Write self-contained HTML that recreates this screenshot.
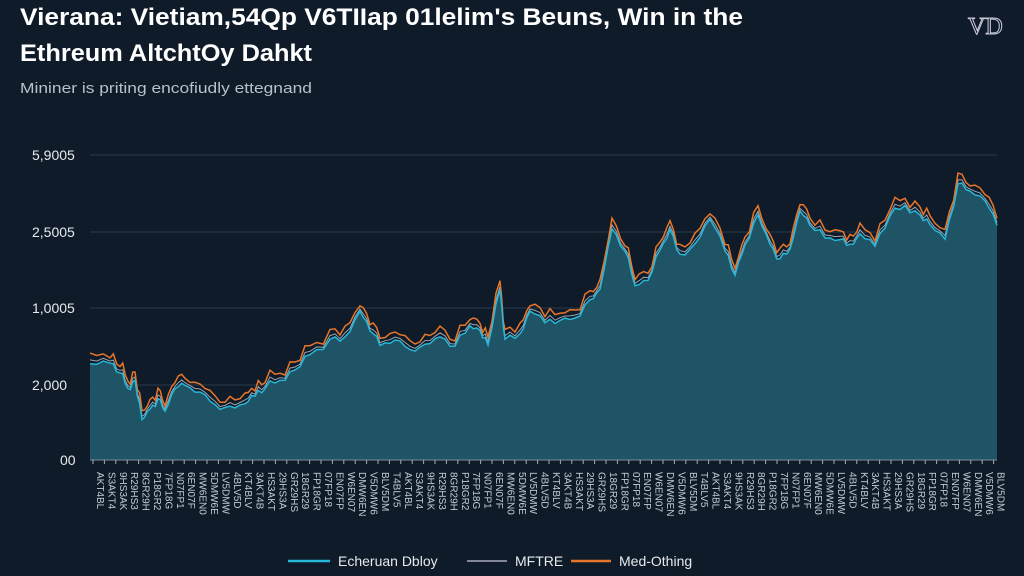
<!DOCTYPE html>
<html><head><meta charset="utf-8"><style>
html,body{margin:0;padding:0;background:#0f1b29;width:1024px;height:576px;overflow:hidden;font-family:"Liberation Sans",sans-serif;}
</style></head><body>
<svg id="s" width="1024" height="576" xmlns="http://www.w3.org/2000/svg">
<rect width="1024" height="576" fill="#0f1b29"/>
<text x="20" y="25" fill="#fff" font-size="24" font-weight="bold" textLength="723" lengthAdjust="spacingAndGlyphs">Vierana: Vietiam,54Qp V6TIIap 01lelim's Beuns, Win in the</text>
<text x="20" y="61" fill="#fff" font-size="24" font-weight="bold" textLength="292" lengthAdjust="spacingAndGlyphs">Ethreum AltchtOy Dahkt</text>
<text x="20" y="93" fill="#b8c0c8" font-size="15" textLength="292" lengthAdjust="spacingAndGlyphs">Mininer is priting encofiudly ettegnand</text>
<text x="968" y="34" fill="none" stroke="#ccd" stroke-width="1" font-size="24" font-family="Liberation Serif">VD</text>
<g stroke="#2a3a4a" stroke-width="1">
<line x1="90" y1="155" x2="997" y2="155"/><line x1="90" y1="232" x2="997" y2="232"/>
<line x1="90" y1="308" x2="997" y2="308"/><line x1="90" y1="385" x2="997" y2="385"/>
</g>
<g fill="#e6eaee" font-size="14">
<text x="32" y="160">5,9005</text><text x="32" y="237">2,5005</text><text x="32" y="313">1,0005</text><text x="32" y="390">2,000</text><text x="60" y="465">00</text>
</g>
<path id="area" fill="#215669" opacity="0.95"/>
<polyline id="gray" fill="none" stroke="#9aa7b0" stroke-width="1"/>
<polyline id="orange" fill="none" stroke="#e8762a" stroke-width="1.5"/>
<polyline id="cyan" fill="none" stroke="#27b7d8" stroke-width="1.5"/>
<line x1="90" y1="460" x2="997" y2="460" stroke="#7d8c98"/>
<g id="ticks"></g>
<line x1="288" y1="561" x2="330" y2="561" stroke="#27b7d8" stroke-width="2.5"/>
<text x="338" y="566" fill="#e6eaee" font-size="14">Echeruan Dbloy</text>
<line x1="467" y1="561" x2="507" y2="561" stroke="#aab" stroke-width="1.5"/>
<text x="515" y="566" fill="#e6eaee" font-size="14">MFTRE</text>
<line x1="571" y1="561" x2="611" y2="561" stroke="#e8762a" stroke-width="2.5"/>
<text x="619" y="566" fill="#e6eaee" font-size="14">Med-Othing</text>
</svg>
<script>
var p0=[[90,365],[110,362],[120,372],[128,388],[135,380],[142,420],[150,410],[158,400],[165,410],[175,388],[185,385],[200,392],[215,405],[230,407],[245,405],[255,395],[265,388],[280,380],[295,370],[310,355],[330,340],[345,338],[360,310],[370,330],[380,345],[395,340],[410,350],[425,345],[440,338],[455,345],[470,325],[480,330],[488,345],[500,290],[505,340],[520,335],[530,310],[545,322],[560,320],[575,318],[590,300],[600,290],[612,230],[625,250],[635,285],[648,280],[660,250],[670,230],[680,255],[695,245],[710,218],[725,250],[735,275],[745,245],[758,215],[770,245],[780,260],[790,248],[800,210],[810,225],[825,238],[840,240],[850,245],[860,235],[875,245],[890,215],[905,205],[920,215],[930,225],[945,240],[958,185],[970,190],[985,200],[997,225]];
var p=[];for(var i=0;i<p0.length-1;i++){var a=p0[i],b=p0[i+1];for(var k=0;k<3;k++){var t=k/3;p.push([a[0]+(b[0]-a[0])*t,a[1]+(b[1]-a[1])*t+(k?((i*7+k*5)%9-4)*0.8:0)]);}}p.push(p0[p0.length-1]);
function s(o,j){return p.map(function(q,i){return q[0].toFixed(1)+","+(q[1]+o+((i*37)%7-3)*j).toFixed(1)}).join(" ")}
var c=s(0,0.4);
document.getElementById('cyan').setAttribute('points',c);
document.getElementById('gray').setAttribute('points',s(-3,0.7));
document.getElementById('orange').setAttribute('points',s(-8,1.3));
document.getElementById('area').setAttribute('d','M90,460 L'+c.replace(/ /g,' L')+' L997,460 Z');
var g=document.getElementById('ticks'),h='',ch='ABDEFGHKLMNPRSTVW0123456789';
for(var i=0;i<80;i++){var x=93+i*11.4,t='';for(var k=0;k<6;k++)t+=ch[(i*13+k*7)%ch.length];
h+='<line x1="'+x+'" y1="460" x2="'+x+'" y2="464" stroke="#aab"/><text transform="translate('+(x+4)+',472) rotate(90)" fill="#c5ccd3" font-size="10">'+t+'</text>';}
g.innerHTML=h;
</script>
</body></html>
